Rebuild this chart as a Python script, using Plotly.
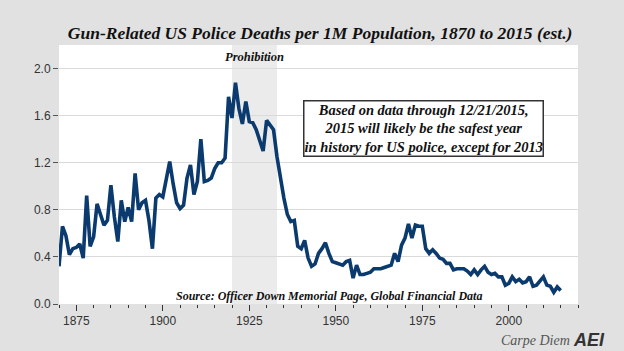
import plotly.graph_objects as go

years = list(range(1870, 2016))
deaths_per_1m = [
    # 1870-1879
    0.32, 0.66, 0.58, 0.42, 0.47, 0.48, 0.51, 0.39, 0.92, 0.49,
    # 1880-1889
    0.57, 0.85, 0.76, 0.67, 0.71, 1.01, 0.74, 0.53, 0.88, 0.70,
    # 1890-1899
    0.82, 0.70, 1.11, 0.80, 0.86, 0.88, 0.71, 0.47, 0.90, 0.93,
    # 1900-1909
    0.91, 1.05, 1.21, 1.02, 0.86, 0.81, 0.84, 1.07, 1.18, 0.93,
    # 1910-1919
    1.04, 1.40, 1.04, 1.05, 1.07, 1.15, 1.20, 1.20, 1.24, 1.76,
    # 1920-1929
    1.58, 1.88, 1.66, 1.53, 1.72, 1.55, 1.54, 1.48, 1.40, 1.30,
    # 1930-1939
    1.56, 1.52, 1.48, 1.25, 1.05, 0.90, 0.76, 0.70, 0.71, 0.49,
    # 1940-1949
    0.47, 0.54, 0.39, 0.32, 0.34, 0.43, 0.47, 0.52, 0.43, 0.36,
    # 1950-1959
    0.35, 0.34, 0.33, 0.36, 0.37, 0.22, 0.33, 0.25, 0.25, 0.26,
    # 1960-1969
    0.27, 0.30, 0.30, 0.30, 0.31, 0.32, 0.33, 0.43, 0.36, 0.50,
    # 1970-1979
    0.56, 0.68, 0.56, 0.67, 0.66, 0.66, 0.47, 0.43, 0.46, 0.43,
    # 1980-1989
    0.39, 0.38, 0.345, 0.345, 0.29, 0.30, 0.30, 0.30, 0.28, 0.25,
    # 1990-1999
    0.29, 0.25, 0.29, 0.32, 0.27, 0.25, 0.26, 0.23, 0.23, 0.16,
    # 2000-2009
    0.175, 0.23, 0.19, 0.21, 0.18, 0.19, 0.23, 0.15, 0.16, 0.19,
    # 2010-2015
    0.23, 0.16, 0.15, 0.10, 0.145, 0.115,
]

prohibition_start = 1920
prohibition_end = 1933

title_text = "Gun-Related US Police Deaths per 1M Population, 1870 to 2015 (est.)"
box_text = ("Based on data through 12/21/2015,<br>2015 will likely be the safest year"
            "<br>in history for US police, except for 2013")
source_text = "Source: Officer Down Memorial Page, Global Financial Data"

serif = "Georgia, 'Liberation Serif', 'DejaVu Serif', serif"
sans = "Arial, 'Liberation Sans', sans-serif"

fig = go.Figure()
fig.add_trace(go.Scatter(
    x=years, y=deaths_per_1m, mode="lines",
    line=dict(color="#0b3a6f", width=3.6),
    hoverinfo="x+y", showlegend=False,
))

fig.add_shape(type="rect", xref="x", yref="y domain",
              x0=prohibition_start, x1=prohibition_end, y0=0, y1=1,
              fillcolor="#ebebeb", line=dict(width=0), layer="below")

fig.add_annotation(x=(prohibition_start + prohibition_end) / 2, y=2.10,
                   xref="x", yref="y", text="<b><i>Prohibition</i></b>",
                   showarrow=False,
                   font=dict(family=serif, size=12.5, color="#111111"))

fig.add_annotation(x=1975.4, y=1.489, xref="x", yref="y",
                   text="<b><i>" + box_text + "</i></b>", showarrow=False,
                   align="center", bgcolor="white", bordercolor="#333333",
                   borderwidth=1.5, borderpad=0,
                   font=dict(family=serif, size=14.5, color="#111111"))

fig.add_annotation(x=1948, y=0.065, xref="x", yref="y",
                   text="<b><i>" + source_text + "</i></b>", showarrow=False,
                   font=dict(family=serif, size=12, color="#111111"))

fig.add_annotation(x=0.918, y=-0.139, xref="paper", yref="paper",
                   xanchor="center", yanchor="middle",
                   text="<i>Carpe Diem</i>", showarrow=False,
                   font=dict(family=serif, size=14, color="#555555"))

# AEI logo as text (paper coords)
fig.add_annotation(x=1.022, y=-0.14, xref="paper", yref="paper",
                   xanchor="center", yanchor="middle",
                   text="<b><i>AEI</i></b>", showarrow=False,
                   font=dict(family=sans, size=18, color="#333333"))

fig.update_layout(
    width=624, height=351,
    margin=dict(l=58.5, r=45.5, t=45, b=47),
    paper_bgcolor="#e1e1e1", plot_bgcolor="white",
    title=dict(text=title_text, x=0.513, xanchor="center", y=0.905, yanchor="middle",
               font=dict(family=serif, size=17.5, color="#111111", weight="bold", style="italic")),
    xaxis=dict(range=[1870, 2020], tick0=1875, dtick=25, ticks="outside",
               ticklen=6, tickcolor="#333333", showgrid=False, zeroline=False,
               showline=False,
               tickfont=dict(family=sans, size=12, color="#333333"),
               minor=dict(dtick=5, tick0=1870, ticks="outside", ticklen=3, tickcolor="#333333",
                          showgrid=False)),
    yaxis=dict(range=[0, 2.2], tick0=0, dtick=0.4, ticks="outside", ticklen=5,
               tickcolor="#555555", tickformat=".1f", showgrid=True,
               gridcolor="#dadada", gridwidth=1, zeroline=False, showline=False,
               tickfont=dict(family=sans, size=12, color="#333333")),
)

fig.write_html("out.html")
